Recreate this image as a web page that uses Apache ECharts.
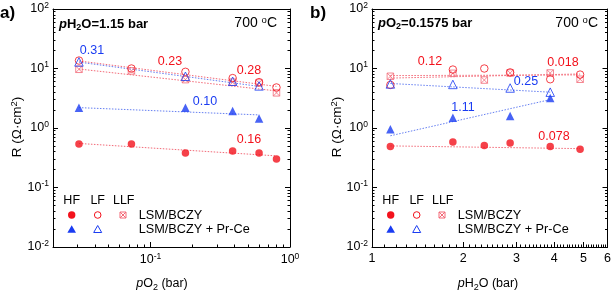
<!DOCTYPE html>
<html><head><meta charset="utf-8">
<script src="https://cdn.jsdelivr.net/npm/echarts@6/dist/echarts.min.js"></script>
<style>html,body{margin:0;padding:0;background:#fff}#c{width:614px;height:296px}</style>
</head><body><div id="c"></div>
<script>
// ---------- Panel a: R vs pO2 (pH2O = 1.15 bar) ----------
const pO2 = [0.0307, 0.073, 0.178, 0.388, 0.60, 0.80];
const pO2Pr = [0.0307, 0.178, 0.388, 0.60];
const aHF_LSM = [0.54, 0.54, 0.38, 0.41, 0.38, 0.30];
const aLF_LSM = [13.6, 10.0, 8.8, 6.9, 5.9, 4.8];
const aLLF_LSM = [9.7, 9.1, 6.5, 5.9, 5.7, 3.9];
const aHF_Pr = [2.2, 2.2, 1.93, 1.44];
const aLF_Pr = [12.9, 7.4, 6.1, 5.1];
// fitted lines (end points)
const aFitX = [0.0307, 0.80];
const aFitXPr = [0.0307, 0.60];
const aFitHF_LSM = [0.55, 0.34];
const aFitLF_LSM = [13.4, 5.0];
const aFitLLF_LSM = [9.8, 4.2];
const aFitHF_Pr = [2.2, 1.66];
const aFitLF_Pr = [12.8, 5.0];

// ---------- Panel b: R vs pH2O (pO2 = 0.1575 bar) ----------
const pH2O = [1.15, 1.85, 2.35, 2.86, 3.88, 4.87];
const pH2OPr = [1.15, 1.85, 2.86, 3.88];
const bHF_LSM = [0.49, 0.58, 0.51, 0.56, 0.49, 0.44];
const bLF_LSM = [5.3, 9.6, 10.0, 8.6, 6.6, 7.9];
const bLLF_LSM = [7.4, 8.3, 6.4, 8.4, 8.4, 6.6];
const bHF_Pr = [0.95, 1.49, 1.59, 3.2];
const bLF_Pr = [5.5, 5.4, 4.7, 4.0];
const bFitX = [1.15, 4.87];
const bFitXPr = [1.15, 3.88];
const bFitHF_LSM = [0.50, 0.45];
const bFitLF_LSM = [7.6, 7.8];
const bFitLLF_LSM = [6.9, 8.1];
const bFitHF_Pr = [0.74, 3.0];
const bFitLF_Pr = [5.6, 4.0];

// tick values
const yMajor = [0.01, 0.1, 1, 10, 100];
const aXMajor = [0.1, 1];
const bXMajor = [1, 2, 3, 4, 5, 6];

const RED = '#f3121c', BLUE = '#1a3cf2';
const RED_LINE = '#f36a78', BLUE_LINE = '#6680f2';
const FONT = "'Liberation Sans', Arial, Helvetica, sans-serif";

function logMinors(lo, hi, min, max) {
  const out = [];
  for (let e = lo; e < hi; e++) for (let m = 2; m <= 9; m++) {
    const v = +(m * Math.pow(10, e)).toPrecision(4);
    if (v > min && v < max) out.push(v);
  }
  return out;
}
const yMinor = logMinors(-2, 2, 0.01, 100);
const aXMinor = logMinors(-2, 0, 0.02, 1);
const bXMinor = [];
for (let i = 1; i < 6; i++) for (let j = 1; j <= 9; j++) bXMinor.push(+(i + j / 10).toFixed(1));

const zip = (xs, ys) => xs.map((x, i) => [x, ys[i]]);
const RICH = {
  b: { fontSize: 12.5, fontFamily: FONT, color: '#000', lineHeight: 16 },
  s: { fontSize: 8.5, fontFamily: FONT, color: '#000', lineHeight: 8, verticalAlign: 'top' }
};
const expFmt = v => '{b|10}{s|' + Math.round(Math.log10(v)) + '}';

function yAxesFor(g) {
  const base = { type: 'log', gridIndex: g, min: 0.01, max: 100, splitLine: { show: false } };
  return [
    Object.assign({}, base, { position: 'left', axisLine: { show: true, lineStyle: { color: '#000', width: 1 } },
      axisTick: { inside: true, length: 5, customValues: yMajor, lineStyle: { color: '#000' } },
      axisLabel: { show: true, margin: 4, customValues: yMajor, formatter: expFmt, rich: RICH } }),
    Object.assign({}, base, { position: 'left', axisLine: { show: false },
      axisTick: { inside: true, length: 2.5, customValues: yMinor, lineStyle: { color: '#000' } }, axisLabel: { show: false } }),
    Object.assign({}, base, { position: 'right', axisLine: { show: true, lineStyle: { color: '#000', width: 1 } },
      axisTick: { inside: true, length: 5, customValues: yMajor, lineStyle: { color: '#000' } }, axisLabel: { show: false } }),
    Object.assign({}, base, { position: 'right', axisLine: { show: false },
      axisTick: { inside: true, length: 2.5, customValues: yMinor, lineStyle: { color: '#000' } }, axisLabel: { show: false } })
  ];
}
function xAxesFor(g, min, max, major, minor, fmt, rich) {
  const base = { type: 'log', gridIndex: g, min: min, max: max, position: 'bottom', splitLine: { show: false } };
  return [
    Object.assign({}, base, { axisLine: { show: true, lineStyle: { color: '#000', width: 1 } },
      axisTick: { inside: true, length: 5, customValues: major, lineStyle: { color: '#000' } },
      axisLabel: { show: true, margin: 5, customValues: major, formatter: fmt, rich: rich, fontSize: 12.5, fontFamily: FONT, color: '#000' } }),
    Object.assign({}, base, { axisLine: { show: false },
      axisTick: { inside: true, length: 2.5, customValues: minor, lineStyle: { color: '#000' } }, axisLabel: { show: false } }),
    Object.assign({}, base, { position: 'top', axisLine: { show: true, lineStyle: { color: '#000', width: 1 } },
      axisTick: { show: false }, axisLabel: { show: false } })
  ];
}

function fit(name, xi, yi, xs, ys, color) {
  return { type: 'line', name: name, xAxisIndex: xi, yAxisIndex: yi, data: zip(xs, ys), symbol: 'none',
    silent: true, z: 1, lineStyle: { color: color, width: 1, type: [1.5, 1.5] } };
}
const CROSS = 'path://M0,0L10,0L10,10L0,10Z M0,0L10,10 M10,0L0,10';
function pts(name, xi, yi, xs, ys, kind, color) {
  const s = { type: 'scatter', name: name, xAxisIndex: xi, yAxisIndex: yi, data: zip(xs, ys), z: 3 };
  if (kind === 'fc') Object.assign(s, { symbol: 'circle', symbolSize: 7.5, itemStyle: { color: color } });
  if (kind === 'oc') Object.assign(s, { symbol: 'circle', symbolSize: 7.5, itemStyle: { color: 'rgba(255,255,255,0)', borderColor: color, borderWidth: 1 } });
  if (kind === 'ft') Object.assign(s, { symbol: 'triangle', symbolSize: 8.5, itemStyle: { color: color } });
  if (kind === 'ot') Object.assign(s, { symbol: 'triangle', symbolSize: 8.5, itemStyle: { color: 'rgba(255,255,255,0)', borderColor: color, borderWidth: 1 } });
  if (kind === 'cs') Object.assign(s, { symbol: CROSS, symbolSize: 6.5, itemStyle: { color: 'rgba(255,255,255,0)', borderColor: RED_LINE, borderWidth: 1 } });
  return s;
}

const series = [
  // panel a
  fit('a fit LF', 0, 0, aFitX, aFitLF_LSM, RED_LINE),
  fit('a fit LLF', 0, 0, aFitX, aFitLLF_LSM, RED_LINE),
  fit('a fit LF Pr', 0, 0, aFitXPr, aFitLF_Pr, BLUE_LINE),
  fit('a fit HF Pr', 0, 0, aFitXPr, aFitHF_Pr, BLUE_LINE),
  fit('a fit HF', 0, 0, aFitX, aFitHF_LSM, RED_LINE),
  pts('a LLF', 0, 0, pO2, aLLF_LSM, 'cs', RED),
  pts('a LF', 0, 0, pO2, aLF_LSM, 'oc', RED),
  pts('a LF Pr', 0, 0, pO2Pr, aLF_Pr, 'ot', BLUE),
  pts('a HF Pr', 0, 0, pO2Pr, aHF_Pr, 'ft', BLUE),
  pts('a HF', 0, 0, pO2, aHF_LSM, 'fc', RED),
  // panel b
  fit('b fit LF', 3, 4, bFitX, bFitLF_LSM, RED_LINE),
  fit('b fit LLF', 3, 4, bFitX, bFitLLF_LSM, RED_LINE),
  fit('b fit LF Pr', 3, 4, bFitXPr, bFitLF_Pr, BLUE_LINE),
  fit('b fit HF Pr', 3, 4, bFitXPr, bFitHF_Pr, BLUE_LINE),
  fit('b fit HF', 3, 4, bFitX, bFitHF_LSM, RED_LINE),
  pts('b LLF', 3, 4, pH2O, bLLF_LSM, 'cs', RED),
  pts('b LF', 3, 4, pH2O, bLF_LSM, 'oc', RED),
  pts('b LF Pr', 3, 4, pH2OPr, bLF_Pr, 'ot', BLUE),
  pts('b HF Pr', 3, 4, pH2OPr, bHF_Pr, 'ft', BLUE),
  pts('b HF', 3, 4, pH2O, bHF_LSM, 'fc', RED)
];

// ---------- annotations ----------
const TRICH = {
  n: { fontSize: 13.5, fontFamily: FONT, color: '#000', lineHeight: 16 },
  xn: { fontSize: 12.5, fontFamily: FONT, color: '#000', lineHeight: 16 },
  xi: { fontSize: 12.5, fontFamily: FONT, fontStyle: 'italic', color: '#000', lineHeight: 16 },
  sub: { fontSize: 9, fontFamily: FONT, color: '#000', lineHeight: 9, verticalAlign: 'bottom' },
  sup: { fontSize: 9.5, fontFamily: FONT, color: '#000', lineHeight: 9, verticalAlign: 'top' },
  bn: { fontSize: 13, fontFamily: FONT, fontWeight: 'bold', color: '#000', lineHeight: 16 },
  bi: { fontSize: 13, fontFamily: FONT, fontWeight: 'bold', fontStyle: 'italic', color: '#000', lineHeight: 16 },
  bsub: { fontSize: 9, fontFamily: FONT, fontWeight: 'bold', color: '#000', lineHeight: 8, verticalAlign: 'bottom' },
  t: { fontSize: 14, fontFamily: FONT, color: '#000', lineHeight: 16 },
  ts: { fontSize: 9.5, fontFamily: FONT, color: '#000', lineHeight: 8, verticalAlign: 'top' }
};
function txt(x, y, text, opts) {
  return { type: 'text', x: x, y: y, rotation: (opts && opts.rot) || 0, z: 10,
    style: Object.assign({ text: text, fill: '#000', fontFamily: FONT, fontSize: 12.5,
      align: (opts && opts.align) || 'center', verticalAlign: 'middle', rich: TRICH }, (opts && opts.style) || {}) };
}
function slope(x, y, t, c) { return txt(x, y, t, { style: { fill: c, fontSize: 12.5 } }); }

function legend(x0) {
  // x0 = x of HF column
  const els = [];
  els.push(txt(x0, 201, 'HF', { style: { fontSize: 12.5 } }));
  els.push(txt(x0 + 26, 201, 'LF', { style: { fontSize: 12.5 } }));
  els.push(txt(x0 + 52, 201, 'LLF', { style: { fontSize: 12.5 } }));
  els.push({ type: 'circle', z: 10, shape: { cx: x0, cy: 215, r: 3.7 }, style: { fill: RED } });
  els.push({ type: 'circle', z: 10, shape: { cx: x0 + 26, cy: 215, r: 3.3 }, style: { fill: 'none', stroke: RED, lineWidth: 1 } });
  els.push({ type: 'rect', z: 10, shape: { x: x0 + 48.3, y: 212, width: 6, height: 6 }, style: { fill: 'none', stroke: RED_LINE, lineWidth: 1 } });
  els.push({ type: 'line', z: 10, shape: { x1: x0 + 48.3, y1: 212, x2: x0 + 54.3, y2: 218 }, style: { stroke: RED_LINE, lineWidth: 1 } });
  els.push({ type: 'line', z: 10, shape: { x1: x0 + 54.3, y1: 212, x2: x0 + 48.3, y2: 218 }, style: { stroke: RED_LINE, lineWidth: 1 } });
  els.push({ type: 'polygon', z: 10, shape: { points: [[x0, 225.3], [x0 + 4.3, 232.8], [x0 - 4.3, 232.8]] }, style: { fill: BLUE } });
  els.push({ type: 'polygon', z: 10, shape: { points: [[x0 + 26, 225.5], [x0 + 30, 232.5], [x0 + 22, 232.5]] }, style: { fill: 'none', stroke: BLUE, lineWidth: 1 } });
  els.push(txt(x0 + 67, 215, 'LSM/BCZY', { align: 'left', style: { fontSize: 12.7 } }));
  els.push(txt(x0 + 67, 229.5, 'LSM/BCZY + Pr-Ce', { align: 'left', style: { fontSize: 12.7 } }));
  return els;
}

const graphics = [
  txt(0, 13, 'a)', { align: 'left', style: { fontSize: 17, fontWeight: 'bold' } }),
  txt(310, 13, 'b)', { align: 'left', style: { fontSize: 17, fontWeight: 'bold' } }),
  txt(59, 24, '{bi|p}{bn|H}{bsub|2}{bn|O=1.15 bar}', { align: 'left' }),
  txt(277, 23, '{t|700 }{ts|o}{t|C}', { align: 'right' }),
  txt(378, 23, '{bi|p}{bn|O}{bsub|2}{bn|=0.1575 bar}', { align: 'left' }),
  txt(598, 23, '{t|700 }{ts|o}{t|C}', { align: 'right' }),
  txt(162, 284, '{xi|p}{xn|O}{sub|2}{xn| (bar)}'),
  txt(488, 284, '{xi|p}{xn|H}{sub|2}{xn|O (bar)}'),
  txt(17, 127, '{n|R (Ω·cm}{sup|2}{n|)}', { rot: Math.PI / 2 }),
  txt(337, 127, '{n|R (Ω·cm}{sup|2}{n|)}', { rot: Math.PI / 2 }),
  slope(92, 51, '0.31', BLUE),
  slope(170, 62, '0.23', RED),
  slope(249, 71, '0.28', RED),
  slope(205, 102, '0.10', BLUE),
  slope(249, 140, '0.16', RED),
  slope(430, 62, '0.12', RED),
  slope(563, 63, '0.018', RED),
  slope(526, 82, '0.25', BLUE),
  slope(463, 108, '1.11', BLUE),
  slope(554, 137, '0.078', RED)
].concat(legend(71.7)).concat(legend(390.7));

const chart = echarts.init(document.getElementById('c'), null, { renderer: 'canvas' });
chart.setOption({
  backgroundColor: '#fff',
  animation: false,
  grid: [
    { left: 53, top: 9, width: 237, height: 238, show: false },
    { left: 372, top: 9, width: 237, height: 238, show: false }
  ],
  xAxis: xAxesFor(0, 0.02, 1, aXMajor, aXMinor, expFmt, RICH)
    .concat(xAxesFor(1, 1, 6, bXMajor, bXMinor, v => String(Math.round(v)), null)),
  yAxis: yAxesFor(0).concat(yAxesFor(1)),
  series: series,
  graphic: graphics
});
</script>
</body></html>
